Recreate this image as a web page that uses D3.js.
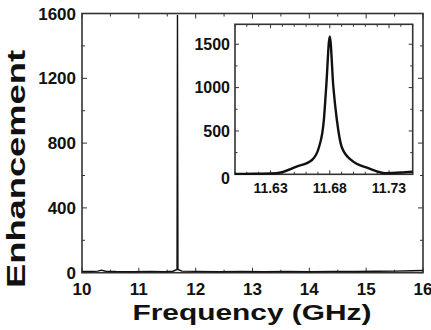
<!DOCTYPE html>
<html>
<head>
<meta charset="utf-8">
<script src="https://d3js.org/d3.v7.min.js"></script>
<style>
  body { margin: 0; background: #fff; }
  svg { display: block; }
  text { font-family: "Liberation Sans", Arial, sans-serif; font-weight: bold; fill: #111; }
</style>
</head>
<body>
<svg width="431" height="330"></svg>
<script>
// main spectrum
const mainFreq = [10.0, 10.15, 10.28, 10.34, 10.42, 10.6, 10.9, 11.2, 11.45, 11.6, 11.672, 11.68, 11.688, 11.76, 12.0, 12.4, 12.8, 13.2, 13.6, 14.0, 14.4, 14.8, 15.2, 15.5, 15.8, 16.0];
const mainVal  = [8, 7, 10, 16, 9, 7, 6, 8, 6, 9, 20, 1590, 20, 10, 8, 6, 8, 6, 8, 6, 8, 7, 9, 10, 12, 14];

// inset: zoom on the resonance
const insetFreq = [11.600, 11.615, 11.635, 11.652, 11.665, 11.671, 11.675, 11.677, 11.680, 11.683, 11.686, 11.690, 11.698, 11.713, 11.727, 11.740, 11.750];
const insetVal  = [5, 6, 12, 88, 165, 318, 626, 1010, 1590, 1010, 626, 318, 165, 69, 14, 20, 30];

const mainXTicks = [10, 11, 12, 13, 14, 15, 16];
const mainYTicks = [0, 400, 800, 1200, 1600];
const insetXTicks = [11.63, 11.68, 11.73];
const insetYTicks = [0, 500, 1000, 1500];

const svg = d3.select("svg");

// ---- main plot
const m = {left: 82, right: 423, top: 13.5, bottom: 272.7};
const x = d3.scaleLinear().domain([10, 16]).range([m.left, m.right]);
const y = d3.scaleLinear().domain([0, 1600]).range([m.bottom, m.top]);

function frame(g, xs, ys, xMajor, xMinor, yMajor, yMinor, big, small) {
  const [x0, x1] = xs.range(), [y0, y1] = ys.range();
  const t = g.append("g").attr("stroke", "#333").attr("stroke-width", 1);
  xMinor.forEach(v => {
    const len = xMajor.includes(v) ? big : small;
    t.append("line").attr("x1", xs(v)).attr("x2", xs(v)).attr("y1", y0).attr("y2", y0 - len);
    t.append("line").attr("x1", xs(v)).attr("x2", xs(v)).attr("y1", y1).attr("y2", y1 + len);
  });
  yMinor.forEach(v => {
    const len = yMajor.includes(v) ? big : small;
    t.append("line").attr("y1", ys(v)).attr("y2", ys(v)).attr("x1", x0).attr("x2", x0 + len);
    t.append("line").attr("y1", ys(v)).attr("y2", ys(v)).attr("x1", x1).attr("x2", x1 - len);
  });
  g.append("rect").attr("x", x0).attr("y", y1).attr("width", x1 - x0).attr("height", y0 - y1)
    .attr("fill", "none").attr("stroke", "#333").attr("stroke-width", 1.6);
}

const main = svg.append("g");
frame(main, x, y, mainXTicks, d3.range(10, 16.01, 0.5).map(v => +v.toFixed(1)),
      mainYTicks, d3.range(0, 1601, 200), 5, 3);

main.append("path")
  .datum(mainFreq.map((f, i) => [f, mainVal[i]]))
  .attr("fill", "none").attr("stroke", "#111").attr("stroke-width", 1.4)
  .attr("d", d3.line().x(d => x(d[0])).y(d => y(d[1])));

main.selectAll(".xl").data(mainXTicks).join("text")
  .attr("x", d => x(d)).attr("y", 295).attr("text-anchor", "middle")
  .attr("font-size", 17).text(d => d);
main.selectAll(".yl").data(mainYTicks).join("text")
  .attr("x", 76).attr("y", d => y(d)).attr("dy", "0.36em").attr("text-anchor", "end")
  .attr("font-size", 17).text(d => d);

svg.append("text").attr("x", 252).attr("y", 320).attr("text-anchor", "middle")
  .attr("font-size", 22).attr("textLength", 239).attr("lengthAdjust", "spacingAndGlyphs")
  .text("Frequency (GHz)");
svg.append("text").attr("transform", "translate(25,169) rotate(-90)").attr("text-anchor", "middle")
  .attr("font-size", 25).attr("textLength", 238).attr("lengthAdjust", "spacingAndGlyphs")
  .text("Enhancement");

// ---- inset
const ix = d3.scaleLinear().domain([11.60, 11.75]).range([235, 412.7]);
const iy = d3.scaleLinear().domain([0, 1730]).range([174.3, 24.3]);
const inset = svg.append("g");
inset.append("rect").attr("x", 235).attr("y", 24.3).attr("width", 177.7).attr("height", 150).attr("fill", "#fff");
frame(inset, ix, iy, insetXTicks, d3.range(11.60, 11.751, 0.01).map(v => +v.toFixed(2)),
      insetYTicks, d3.range(0, 1730, 250), 4, 2.5);

inset.append("path")
  .datum(insetFreq.map((f, i) => [f, insetVal[i]]))
  .attr("fill", "none").attr("stroke", "#111").attr("stroke-width", 2.4)
  .attr("stroke-linejoin", "round")
  .attr("d", d3.line().curve(d3.curveMonotoneX).x(d => ix(d[0])).y(d => iy(d[1])));

inset.selectAll(".ixl").data(insetXTicks).join("text")
  .attr("x", d => ix(d)).attr("y", 193).attr("text-anchor", "middle")
  .attr("font-size", 14).text(d => d.toFixed(2));
inset.selectAll(".iyl").data(insetYTicks).join("text")
  .attr("x", 230).attr("y", d => iy(d)).attr("dy", d => d === 0 ? "0.6em" : "0.36em").attr("text-anchor", "end")
  .attr("font-size", 16).text(d => d);
</script>
</body>
</html>
